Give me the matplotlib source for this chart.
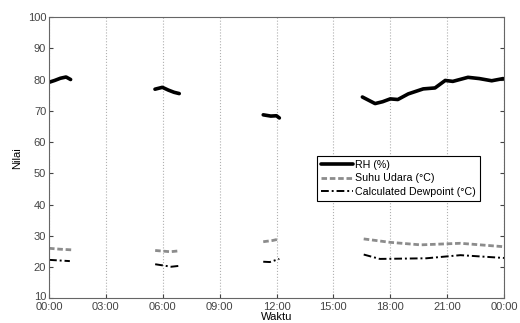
import numpy as np
import matplotlib
matplotlib.use("Agg")
import matplotlib.pyplot as plt
import matplotlib.transforms as mtransforms

plt.rcParams['font.family'] = ['Liberation Sans', 'DejaVu Sans']

nan = np.nan
# hours since 00:00; NaN marks gaps in the record
rh_t = [0.0, 0.3, 0.6, 0.9, 1.14, nan,
        5.59, 5.98, 6.3, 6.6, 6.87, nan,
        11.3, 11.7, 12.0, 12.15, nan,
        16.53, 17.2, 17.6, 18.0, 18.4, 18.95, 19.74, 20.36, 20.9, 21.3, 22.1, 22.7, 23.35, 23.96]
rh_v = [79.1, 79.7, 80.4, 80.8, 80.0, nan,
        76.9, 77.5, 76.6, 75.9, 75.5, nan,
        68.7, 68.3, 68.4, 67.7, nan,
        74.4, 72.3, 72.9, 73.8, 73.6, 75.4, 77.0, 77.3, 79.7, 79.4, 80.7, 80.3, 79.6, 80.3]

suhu_t = [0.0, 0.6, 1.2, nan,
          5.6, 6.4, 6.9, nan,
          11.3, 11.8, 12.15, nan,
          16.6, 18.0, 19.6, 21.7, 24.0]
suhu_v = [26.0, 25.7, 25.5, nan,
          25.3, 24.9, 25.2, nan,
          28.1, 28.5, 29.0, nan,
          29.0, 27.9, 27.1, 27.6, 26.5]

dew_t = [0.0, 1.1, nan,
         5.6, 6.45, 6.9, nan,
         11.3, 11.65, 12.15, nan,
         16.6, 17.45, 19.9, 21.7, 24.0]
dew_v = [22.3, 21.9, nan,
         20.9, 20.1, 20.4, nan,
         21.7, 21.6, 22.6, nan,
         24.0, 22.6, 22.8, 23.8, 22.9]

xticks = [0, 3, 6, 9, 12, 15, 18, 21, 24]
xlabels = ['00:00', '03:00', '06:00', '09:00', '12:00', '15:00', '18:00', '21:00', '00:00']
yticks = [10, 20, 30, 40, 50, 60, 70, 80, 90, 100]

fig = plt.figure(figsize=(5.2, 3.23), dpi=100)
ax = fig.add_axes([49/520, 1 - 298.3/323, 455/520, 281.3/323])

ax.plot(rh_t, rh_v, color='black', lw=2.6, label='RH (%)', solid_capstyle='round')
ax.plot(suhu_t, suhu_v, color='#8c8c8c', lw=2.0, ls=(0, (2, 1)), label='Suhu Udara (°C)')
ax.plot(dew_t, dew_v, color='black', lw=1.4, ls=(0, (4, 1.5, 1, 1.5)), label='Calculated Dewpoint (°C)')

ax.set_xlim(0, 24)
ax.set_ylim(10, 100)
ax.set_xticks(xticks)
ax.set_xticklabels(xlabels)
ax.set_yticks(yticks)
ax.grid(axis='x', color='#b0b0b0', ls=':', lw=0.8)
ax.tick_params(direction='in', length=3, labelsize=8, colors='#444444', right=True, top=False, pad=2)
ax.tick_params(axis='x', pad=3)
for s in ax.spines.values():
    s.set_color('#666666')
    s.set_linewidth(0.8)
ax.set_xlabel('Waktu', fontsize=8, labelpad=0)
ax.set_ylabel('Nilai', fontsize=8, labelpad=4)

leg = ax.legend(loc='upper left', bbox_to_anchor=(0.588, 0.506), fontsize=7.7, frameon=True,
                fancybox=False, edgecolor='black', framealpha=1, handlelength=3.0,
                handletextpad=0.2, borderpad=0.4, labelspacing=0.3, borderaxespad=0)
leg.get_frame().set_linewidth(0.8)

fig.canvas.draw()
lbl = ax.yaxis.get_major_ticks()[0].label1
lbl.set_transform(lbl.get_transform() + mtransforms.ScaledTranslation(0, 2/100, fig.dpi_scale_trans))

fig.savefig('out.png', dpi=100)
